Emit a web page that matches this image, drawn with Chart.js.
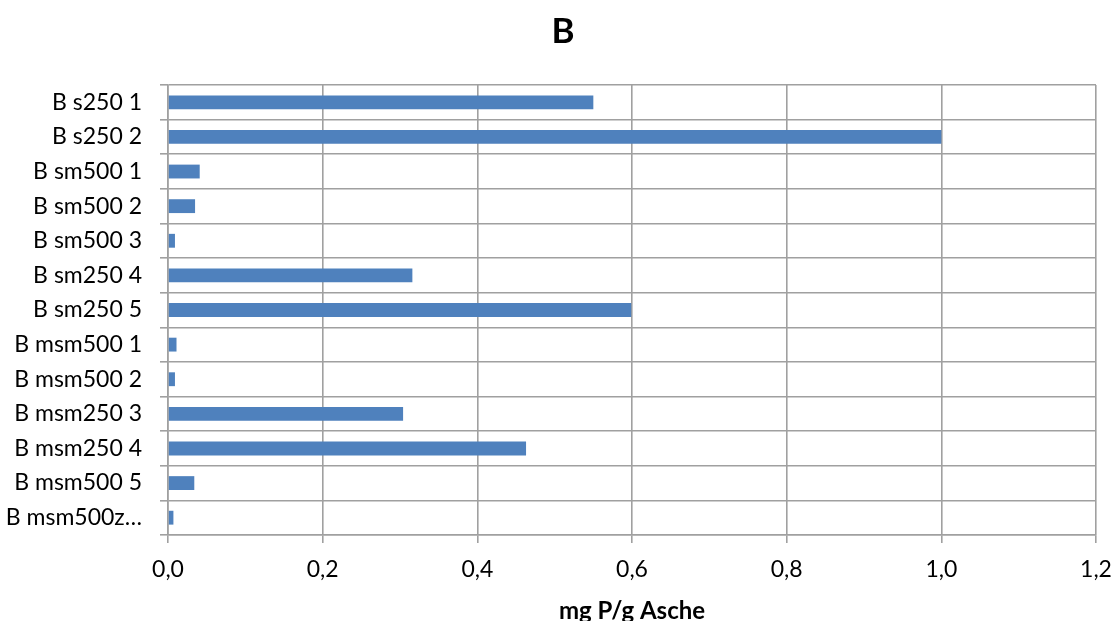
<!DOCTYPE html>
<html>
<head>
<meta charset="utf-8">
<script src="https://cdn.jsdelivr.net/npm/chart.js@4.4.1/dist/chart.umd.min.js"></script>
<style>
  html, body { margin: 0; padding: 0; background: #ffffff; }
  #wrap { width: 1115px; height: 621px; position: relative; }
</style>
</head>
<body>
<div id="wrap"><canvas id="c" width="1115" height="621"></canvas></div>
<script>
const chartTitle = "B";
const axisTitle = "mg P/g Asche";
const categories = [
  "B s250 1", "B s250 2", "B sm500 1", "B sm500 2", "B sm500 3",
  "B sm250 4", "B sm250 5", "B msm500 1", "B msm500 2", "B msm250 3",
  "B msm250 4", "B msm500 5", "B msm500z…"
];
const values = [0.55, 1.0, 0.041, 0.035, 0.009, 0.316, 0.599, 0.011, 0.009, 0.304, 0.463, 0.034, 0.007];
const xMin = 0, xMax = 1.2, xStep = 0.2;

const FONT = "Lato, 'Open Sans', 'DejaVu Sans', sans-serif";
const gridColor = "#a0a0a0";

// shift the title block so it is centred like the reference
const titleShift = {
  id: "titleShift",
  afterLayout(chart) {
    const tb = chart.titleBlock;
    if (tb) { tb.left += 30; }
  }
};

new Chart(document.getElementById("c"), {
  type: "bar",
  plugins: [titleShift],
  data: {
    labels: categories,
    datasets: [{
      data: values,
      backgroundColor: "#4f81bd",
      borderWidth: 0,
      barPercentage: 0.4,
      categoryPercentage: 1.0
    }]
  },
  options: {
    indexAxis: "y",
    responsive: false,
    animation: false,
    devicePixelRatio: 1,
    layout: { padding: { left: 0, right: 19, top: 0, bottom: 0 } },
    plugins: {
      legend: { display: false },
      tooltip: { enabled: false },
      title: {
        display: true,
        text: chartTitle,
        color: "#000",
        font: { family: FONT, size: 35, weight: "bold", lineHeight: 1.2 },
        padding: { top: 11, bottom: 32 }
      }
    },
    scales: {
      x: {
        min: xMin, max: xMax,
        afterFit: (s) => { s.height = 86; s.paddingRight = 0; s.paddingLeft = 0; },
        ticks: {
          stepSize: xStep,
          color: "#000",
          padding: 13,
          font: { family: FONT, size: 23 },
          callback: (v) => Number(v).toFixed(1).replace(".", ",")
        },
        grid: { color: gridColor, lineWidth: 1.6, tickLength: 8, drawTicks: true },
        border: { color: gridColor, width: 1.6 },
        title: {
          display: true,
          text: axisTitle,
          color: "#000",
          font: { family: FONT, size: 24, weight: "bold", lineHeight: 0.8 },
          padding: { top: 0, bottom: 0 }
        }
      },
      y: {
        afterFit: (s) => { s.width = 168; },
        ticks: {
          color: "#000",
          padding: 18,
          font: { family: FONT, size: 23 },
          autoSkip: false
        },
        grid: { color: gridColor, lineWidth: 1.6, tickLength: 8, offset: true },
        border: { color: gridColor, width: 1.6 }
      }
    }
  }
});
</script>
</body>
</html>
